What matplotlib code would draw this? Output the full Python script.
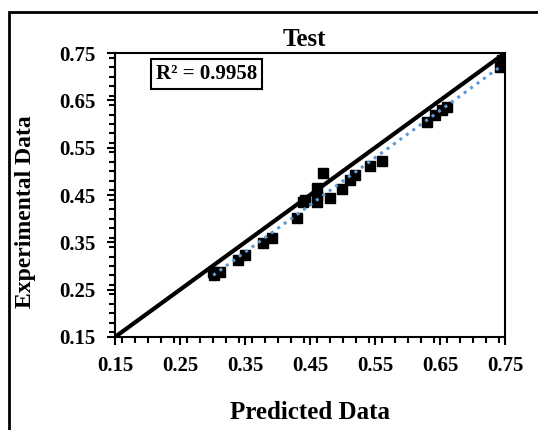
import matplotlib.pyplot as plt
import numpy as np
from matplotlib.patches import Rectangle
from matplotlib.ticker import MultipleLocator

plt.rcParams['font.family'] = ['Liberation Serif', 'DejaVu Serif']
plt.rcParams['font.weight'] = 'bold'

# data
predicted = [0.301, 0.312, 0.303, 0.339, 0.350, 0.378, 0.392, 0.430, 0.439, 0.461,
             0.461, 0.470, 0.442, 0.481, 0.461, 0.499, 0.512, 0.519, 0.542, 0.561,
             0.630, 0.642, 0.653, 0.660, 0.742, 0.745]
experimental = [0.287, 0.287, 0.280, 0.313, 0.323, 0.349, 0.359, 0.401, 0.435, 0.435,
                0.465, 0.496, 0.440, 0.444, 0.448, 0.463, 0.482, 0.492, 0.511, 0.522,
                0.604, 0.619, 0.630, 0.636, 0.720, 0.735]
ticks = [0.15, 0.25, 0.35, 0.45, 0.55, 0.65, 0.75]
r2_text = 'R² = 0.9958'

fig = plt.figure(figsize=(5.38, 4.30), dpi=100)
ax = fig.add_axes([0.2138, 0.2163, 0.7249, 0.6604])

# outer frame (cut off at right and bottom like the reference)
fig.patches.append(Rectangle((0.0167, -0.1), 1.2, 1.072, transform=fig.transFigure,
                             fill=False, edgecolor='black', linewidth=2, clip_on=False))

# 1:1 line
ax.plot([0.15, 0.75], [0.15, 0.75], color='black', linewidth=3, zorder=2)

ax.plot(predicted, experimental, 's', color='black', markersize=6.5, zorder=3)

# linear trendline
p = np.polyfit(predicted, experimental, 1)
xs = np.array([min(predicted), max(predicted)])
ax.plot(xs, np.polyval(p, xs), linestyle=(0, (1, 1.6)), color='#5B9BD5',
        linewidth=2.2, zorder=4)

ax.set_xlim(0.15, 0.75)
ax.set_ylim(0.15, 0.75)
ax.set_xticks(ticks)
ax.set_yticks(ticks)
ax.set_xticklabels([f'{t:.2f}' for t in ticks])
ax.set_yticklabels([f'{t:.2f}' for t in ticks])
ax.xaxis.set_minor_locator(MultipleLocator(0.02))
ax.yaxis.set_minor_locator(MultipleLocator(0.02))
ax.tick_params(which='major', direction='out', length=6, width=1.5, labelsize=15, pad=8)
ax.tick_params(which='minor', direction='out', length=4, width=1.5)
for s in ax.spines.values():
    s.set_linewidth(1.5)

ax.set_title('Test', fontsize=18, fontweight='bold', pad=5, x=0.485)
ax.set_xlabel('Predicted Data', fontsize=18, fontweight='bold', labelpad=18)
ax.set_ylabel('Experimental Data', fontsize=17, fontweight='bold', labelpad=17)
ax.yaxis.label.set_y(0.44)

ax.text(0.105, 0.926, r2_text, transform=ax.transAxes, fontsize=15, fontweight='bold',
        va='center', ha='left',
        bbox=dict(boxstyle='square,pad=0.25', facecolor='white', edgecolor='black', linewidth=1.5))

fig.savefig('out.png', dpi=100)
